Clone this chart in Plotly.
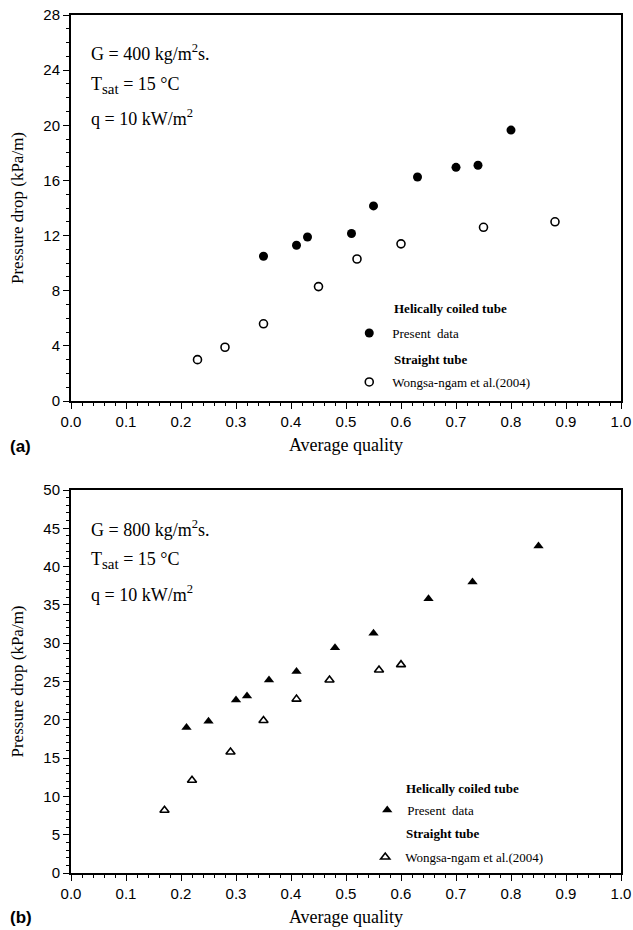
import plotly.graph_objects as go
from plotly.subplots import make_subplots

# Panel (a): G = 400 kg/m2s
a_coiled_x = [0.35, 0.41, 0.43, 0.51, 0.55, 0.63, 0.70, 0.74, 0.80]
a_coiled_y = [10.5, 11.3, 11.9, 12.15, 14.15, 16.25, 16.95, 17.1, 19.65]
a_straight_x = [0.23, 0.28, 0.35, 0.45, 0.52, 0.60, 0.75, 0.88]
a_straight_y = [3.0, 3.9, 5.6, 8.3, 10.3, 11.4, 12.6, 13.0]

# Panel (b): G = 800 kg/m2s
b_coiled_x = [0.21, 0.25, 0.30, 0.32, 0.36, 0.41, 0.48, 0.55, 0.65, 0.73, 0.85]
b_coiled_y = [19.0, 19.8, 22.6, 23.1, 25.2, 26.3, 29.4, 31.3, 35.8, 38.0, 42.7]
b_straight_x = [0.17, 0.22, 0.29, 0.35, 0.41, 0.47, 0.56, 0.60]
b_straight_y = [8.2, 12.1, 15.8, 19.9, 22.7, 25.2, 26.5, 27.2]

x_ticks = [i / 10 for i in range(11)]
a_y_ticks = list(range(0, 29, 4))
b_y_ticks = list(range(0, 51, 5))

SERIF = "Liberation Serif, Times New Roman, serif"
SANS = "Liberation Sans, Arial, sans-serif"

W, H = 633, 930
ML, MR, MT, MB = 70.5, 12, 15, 57
plot_h = H - MT - MB
# panel domains in paper fraction (pixel rows 15-401 and 490-873)
dom_a = [(H - MB - 401) / plot_h, 1.0]
dom_b = [0.0, (H - MB - 490) / plot_h]

fig = make_subplots(rows=2, cols=1)

fig.add_trace(go.Scatter(x=a_coiled_x, y=a_coiled_y, mode="markers", name="Present  data",
                         marker=dict(symbol="circle", size=9, color="black"),
                         legend="legend"), row=1, col=1)
fig.add_trace(go.Scatter(x=a_straight_x, y=a_straight_y, mode="markers", name="Wongsa-ngam et al.(2004)",
                         marker=dict(symbol="circle-open", size=8, color="black", line=dict(width=1.6)),
                         legend="legend2"), row=1, col=1)
fig.add_trace(go.Scatter(x=b_coiled_x, y=b_coiled_y, mode="markers", name="Present  data",
                         marker=dict(symbol="triangle-up", size=9, color="black"),
                         legend="legend3"), row=2, col=1)
fig.add_trace(go.Scatter(x=b_straight_x, y=b_straight_y, mode="markers", name="Wongsa-ngam et al.(2004)",
                         marker=dict(symbol="triangle-up-open", size=8, color="black", line=dict(width=1.6)),
                         legend="legend4"), row=2, col=1)

axis_common = dict(
    showline=True, linecolor="black", linewidth=2, mirror=True,
    ticks="outside", ticklen=6, tickwidth=1, tickcolor="black",
    showgrid=False, zeroline=False,
    tickfont=dict(family=SANS, size=15, color="black"),
)

for r in (1, 2):
    fig.update_xaxes(
        range=[0, 1], tickvals=x_ticks, ticktext=[f"{v:.1f}" for v in x_ticks],
        minor=dict(dtick=0.02, tick0=0, ticks="outside", ticklen=3, tickcolor="black"),
        title=dict(text="Average quality", font=dict(family=SERIF, size=18, color="black"), standoff=9),
        row=r, col=1, **axis_common)

fig.update_yaxes(range=[0, 28], tickvals=a_y_ticks, domain=dom_a,
                 minor=dict(dtick=1, tick0=0, ticks="outside", ticklen=3, tickcolor="black"),
                 title=dict(text="Pressure drop (kPa/m)", font=dict(family=SERIF, size=17, color="black")),
                 row=1, col=1, **axis_common)
fig.update_yaxes(range=[0, 50], tickvals=b_y_ticks, domain=dom_b,
                 minor=dict(dtick=1, tick0=0, ticks="outside", ticklen=3, tickcolor="black"),
                 title=dict(text="Pressure drop (kPa/m)", font=dict(family=SERIF, size=17, color="black")),
                 row=2, col=1, **axis_common)


def px_x(px):
    return (px - ML) / (W - ML - MR)


def px_y(py):
    return (H - MB - py) / plot_h


legend_font = dict(family=SERIF, size=13, color="black")
leg_common = dict(font=legend_font, bgcolor="rgba(0,0,0,0)", borderwidth=0,
                  xanchor="left", yanchor="middle", itemclick=False, itemdoubleclick=False)

fig.update_layout(
    legend=dict(x=px_x(346), y=px_y(333), itemwidth=36, **leg_common),
    legend2=dict(x=px_x(346), y=px_y(382), itemwidth=36, **leg_common),
    legend3=dict(x=px_x(367), y=px_y(810), **leg_common),
    legend4=dict(x=px_x(365), y=px_y(857), **leg_common),
)

SAT = '<sub><span style="font-size:15px">sat</span></sub>'
ann = []
# operating conditions
for txt, py in (("G = 400 kg/m<sup>2</sup>s.", 52), (f"T{SAT} = 15 °C", 85),
                ("q = 10 kW/m<sup>2</sup>", 118),
                ("G = 800 kg/m<sup>2</sup>s.", 528), (f"T{SAT} = 15 °C", 560),
                ("q = 10 kW/m<sup>2</sup>", 593)):
    ann.append(dict(text=txt, x=px_x(89), y=px_y(py), xref="paper", yref="paper",
                    xanchor="left", yanchor="middle", showarrow=False,
                    font=dict(family=SERIF, size=18, color="black")))
# legend group headings
for txt, px, py in (("Helically coiled tube", 392, 308), ("Straight tube", 392, 359),
                    ("Helically coiled tube", 404, 788), ("Straight tube", 404, 833)):
    ann.append(dict(text=f"<b>{txt}</b>", x=px_x(px), y=px_y(py), xref="paper", yref="paper",
                    xanchor="left", yanchor="middle", showarrow=False,
                    font=dict(family=SERIF, size=13, color="black")))
# panel letters
for txt, py in (("(a)", 446), ("(b)", 917)):
    ann.append(dict(text=f"<b>{txt}</b>", x=px_x(7), y=px_y(py), xref="paper", yref="paper",
                    xanchor="left", yanchor="middle", showarrow=False,
                    font=dict(family=SANS, size=17, color="black")))

fig.update_layout(
    width=W, height=H,
    margin=dict(l=ML, r=MR, t=MT, b=MB, autoexpand=False),
    paper_bgcolor="white", plot_bgcolor="white",
    annotations=ann,
    showlegend=True,
)

fig.write_html("out.html")
